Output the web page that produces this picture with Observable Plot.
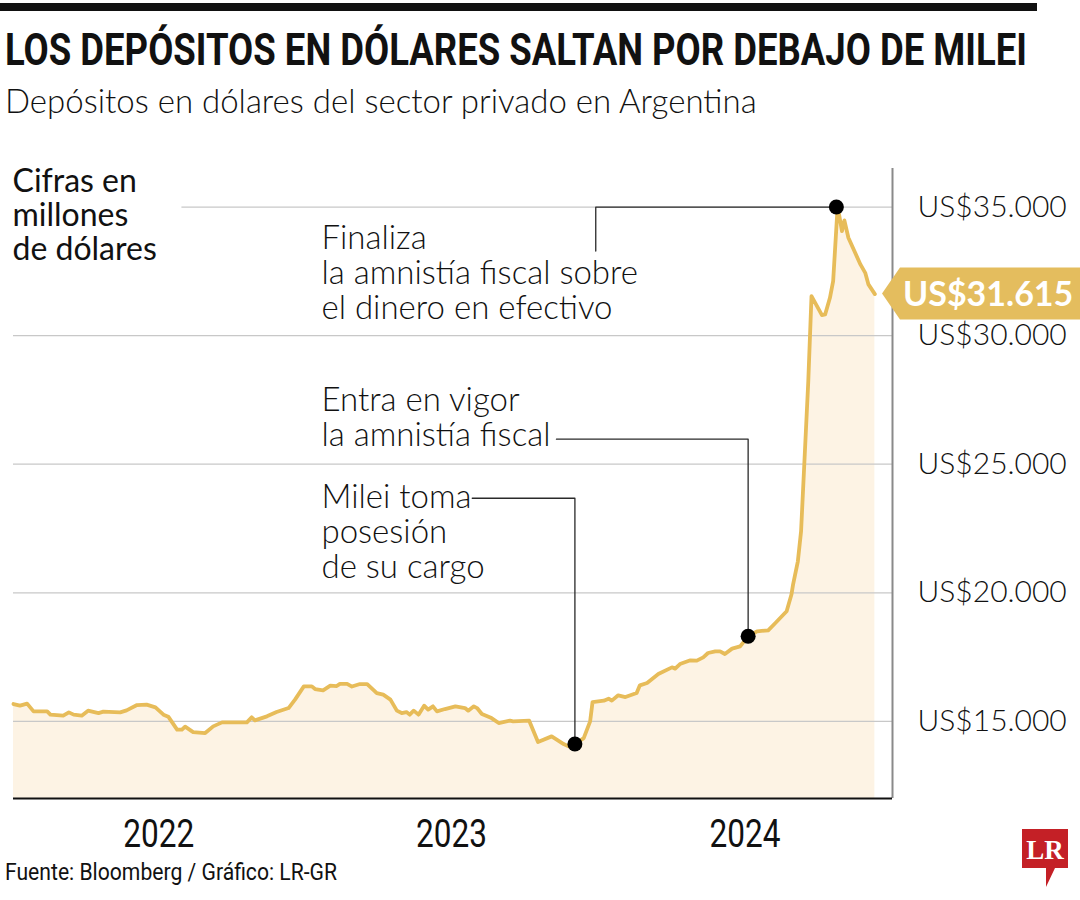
<!DOCTYPE html>
<html><head><meta charset="utf-8">
<script src="https://cdn.jsdelivr.net/npm/d3@7"></script>
<script src="https://cdn.jsdelivr.net/npm/@observablehq/plot@0.6"></script>
<style>
body{margin:0;background:#fff;}
#page{position:relative;width:1080px;height:900px;overflow:hidden;font-family:Lato,"Open Sans",sans-serif;color:#111;}
#bar{position:absolute;left:0;top:3px;width:1037px;height:8px;background:#111;}
#title{position:absolute;left:5px;top:27px;font-family:Roboto,"Open Sans",sans-serif;font-weight:700;font-size:45px;line-height:45px;white-space:nowrap;transform-origin:0 0;}
#subtitle{position:absolute;left:5px;top:84px;font-family:Lato,sans-serif;font-weight:300;font-size:33px;line-height:33px;white-space:nowrap;}
#chart{position:absolute;left:0;top:140px;}
#caption{position:absolute;left:5px;top:861px;font-family:Roboto,sans-serif;font-weight:400;font-size:23px;line-height:23px;white-space:nowrap;transform-origin:0 0;}
#logo{position:absolute;left:1022px;top:829px;}
</style></head>
<body>
<div id="page">
  <div id="bar"></div>
  <div id="title">LOS DEPÓSITOS EN DÓLARES SALTAN POR DEBAJO DE MILEI</div>
  <div id="subtitle">Depósitos en dólares del sector privado en Argentina</div>
  <div id="chart"></div>
  <div id="caption">Fuente: Bloomberg / Gráfico: LR-GR</div>
  <svg id="logo" width="48" height="60" viewBox="0 0 48 60">
    <path d="M0,0 H46 V39 H33 L24,58 V39 H0 Z" fill="#c42026"/>
    <text x="23" y="30" text-anchor="middle" font-family="Liberation Serif, DejaVu Serif, serif" font-weight="700" font-size="27" fill="#fff">LR</text>
  </svg>
</div>
<script>
// ---- data ----
const dates = [
"2022-01-01","2022-01-09","2022-01-18","2022-01-26","2022-02-12","2022-02-16","2022-03-04","2022-03-11","2022-03-17","2022-03-27","2022-04-04","2022-04-17","2022-04-23","2022-05-14","2022-05-22","2022-06-04","2022-06-16","2022-06-27","2022-07-07","2022-07-13","2022-07-24","2022-07-30","2022-08-03","2022-08-13","2022-08-28","2022-09-07","2022-09-18","2022-10-19","2022-10-25","2022-10-29","2022-11-13","2022-11-25","2022-12-10","2022-12-18","2022-12-29",
"2023-01-08","2023-01-12","2023-01-22","2023-01-31","2023-02-08","2023-02-12","2023-02-21","2023-02-27","2023-03-09","2023-03-18","2023-03-30","2023-04-07","2023-04-16","2023-04-24","2023-04-30","2023-05-06","2023-05-10","2023-05-15","2023-05-21","2023-05-28","2023-06-02","2023-06-08","2023-06-13","2023-06-23","2023-07-06","2023-07-18","2023-07-22","2023-07-29","2023-08-02","2023-08-08","2023-08-20","2023-08-29","2023-09-12","2023-09-16","2023-10-06","2023-10-17","2023-11-03","2023-11-18","2023-11-24","2023-12-02","2023-12-13","2023-12-21","2023-12-24",
"2024-01-07","2024-01-13","2024-01-17","2024-01-25","2024-02-03","2024-02-17","2024-02-21","2024-03-01","2024-03-15","2024-04-01","2024-04-05","2024-04-11","2024-04-24","2024-05-02","2024-05-10","2024-05-16","2024-05-25","2024-05-31","2024-06-06","2024-06-15","2024-06-25","2024-07-05","2024-07-16","2024-07-30","2024-08-08","2024-08-22","2024-08-28","2024-08-30","2024-09-05","2024-09-09","2024-09-13","2024-09-18","2024-09-22","2024-10-05","2024-10-09","2024-10-15","2024-10-19","2024-10-24","2024-10-26","2024-10-30","2024-11-02","2024-11-07","2024-11-22","2024-11-28","2024-12-02","2024-12-10"
];
const values = [
15673,15611,15689,15389,15389,15261,15222,15350,15261,15222,15416,15323,15377,15350,15428,15634,15650,15545,15261,15183,14677,14677,14794,14584,14545,14805,14961,14961,15156,15039,15195,15362,15517,15844,16362,
16362,16257,16206,16389,16373,16459,16459,16354,16451,16451,16101,16039,15844,15416,15323,15362,15261,15416,15261,15611,15455,15584,15389,15479,15584,15517,15416,15584,15517,15284,15128,14934,15027,15000,15027,14195,14416,14117,14027,14117,14350,15000,15751,
15805,15883,15805,16012,15946,16101,16401,16490,16840,17101,17051,17230,17374,17362,17490,17658,17724,17724,17619,17829,17918,18307,18502,18541,18825,19280,19930,20319,21226,22393,24988,28230,31537,30798,30825,31471,32121,34716,34778,34066,34482,33805,32770,32443,31992,31615
];
const yTicks = [15000, 20000, 25000, 30000, 35000];
const gridStarts = ["2022-01-01","2022-01-01","2022-01-01","2022-01-01","2022-07-30"];
const yearTicks = ["2022-07-01","2023-07-01","2024-07-01"];
const yearLabels = ["2022","2023","2024"];
const xDomain = ["2022-01-01","2025-01-01"];
const yDomain = [12000, 36500];

const eventLabels = ["Milei toma\nposesión\nde su cargo", "Entra en vigor\nla amnistía fiscal", "Finaliza\nla amnistía fiscal sobre\nel dinero en efectivo"];
const eventDates = ["2023-12-02", "2024-07-05", "2024-10-23"];
const eventValues = [14117, 18307, 35000];
const labelDates = ["2023-01-20", "2023-01-20", "2023-01-20"];
const labelValues = [24261, 28035, 34339];
const elbowStartDates = ["2023-07-27", "2023-11-09", "2023-12-28"];
const elbowValues = [23677, 25973, 33288];
const unitLabel = "Cifras en\nmillones\nde dólares";
const lastLabel = "US$31.615";

// ---- build ----
const D = s => new Date(s + "T00:00:00Z");
const data = dates.map((d, i) => ({date: D(d), value: values[i]}));
const grid = yTicks.map((v, i) => ({v, x1: D(gridStarts[i]), x2: D(xDomain[1])}));
const events = eventDates.map((d, i) => ({date: D(d), value: eventValues[i]}));
const labels = eventLabels.map((t, i) => ({text: t, date: D(labelDates[i]), value: labelValues[i]}));
const connectors = [];
eventDates.forEach((d, i) => {
  if (i < 2) {
    connectors.push({id: i, date: D(elbowStartDates[i]), value: elbowValues[i]});
    connectors.push({id: i, date: D(d), value: elbowValues[i]});
    connectors.push({id: i, date: D(d), value: eventValues[i]});
  } else {
    connectors.push({id: i, date: D(d), value: eventValues[i]});
    connectors.push({id: i, date: D(elbowStartDates[i]), value: eventValues[i]});
    connectors.push({id: i, date: D(elbowStartDates[i]), value: elbowValues[i]});
  }
});
const fmt = v => "US$" + d3.format(",")(v).replace(/,/g, ".");

const W = 1080, H = 720, mt = 28, mb = 62, ml = 13, mr = 188;
const chart = Plot.plot({
  width: W, height: H,
  marginTop: mt, marginBottom: mb, marginLeft: ml, marginRight: mr,
  style: {fontFamily: "Lato, 'Open Sans', sans-serif", color: "#111", background: "transparent", overflow: "visible"},
  x: {type: "utc", domain: xDomain.map(D)},
  y: {domain: yDomain},
  marks: [
    Plot.areaY(data, {x: "date", y1: yDomain[0], y2: "value", fill: "#fdf3e4", curve: "linear"}),
    Plot.ruleY(grid, {y: "v", x1: "x1", x2: "x2", stroke: "#c8c8c8", strokeWidth: 1.3}),
    Plot.ruleX([D(xDomain[1])], {stroke: "#8a8a8a", strokeWidth: 2}),
    Plot.ruleY([yDomain[0]], {x1: D(xDomain[0]), x2: D(xDomain[1]), stroke: "#111", strokeWidth: 2}),
    Plot.lineY(data, {x: "date", y: "value", stroke: "#e7bc59", strokeWidth: 3.8, strokeLinejoin: "round"}),
    Plot.line(connectors, {x: "date", y: "value", z: "id", stroke: "#2a2a2a", strokeWidth: 1.3}),
    Plot.dot(events, {x: "date", y: "value", r: 7.5, fill: "#000"}),
    Plot.text(labels, {x: "date", y: "value", text: "text", lineAnchor: "top", textAnchor: "start", fontSize: 33, fontWeight: 300, lineHeight: 1.06, fill: "#111"}),
    Plot.text([unitLabel], {frameAnchor: "top-left", dx: -1, lineAnchor: "top", textAnchor: "start", fontSize: 32, fontWeight: 400, lineHeight: 1.05, fill: "#111"}),
    Plot.axisY(yTicks, {anchor: "right", tickSize: 0, tickPadding: 25, textAnchor: "start", fontSize: 30, fontWeight: 300, tickFormat: fmt, label: null, fill: "#111"}),
    Plot.axisX(yearTicks.map(D), {anchor: "bottom", tickSize: 0, tickPadding: 21, fontSize: 39, fontFamily: "Roboto, sans-serif", tickFormat: d => yearLabels[yearTicks.indexOf(d.toISOString().slice(0,10))], label: null, fill: "#111"})
  ]
});
document.getElementById("chart").appendChild(chart);

// condensed look for the year labels
d3.select(chart).selectAll("g[aria-label='x-axis tick label'] text")
  .attr("textLength", 71).attr("lengthAdjust", "spacingAndGlyphs");

// value tag for the last observation, positioned through the plot's scales
let ys;
try { ys = chart.scale("y"); } catch (e) { ys = null; }
const yApply = ys && ys.apply ? v => ys.apply(v) : d3.scaleLinear(yDomain, [H - mb, mt]);
const yc = yApply(values[values.length - 1]);
const xr = W - mr;
const g = d3.select(chart).append("g");
g.append("path")
  .attr("d", `M${xr - 10},${yc} L${xr + 8},${yc - 26} L${W},${yc - 26} L${W},${yc + 26} L${xr + 8},${yc + 26} Z`)
  .attr("fill", "#e4bd5e");
g.append("text")
  .attr("x", xr + 11).attr("y", yc).attr("dy", "0.36em")
  .attr("text-anchor", "start")
  .attr("font-family", "Lato, 'Open Sans', sans-serif").attr("font-weight", 700).attr("font-size", 34)
  .attr("fill", "#fff").text(lastLabel);

// condensed title and caption: fit to the reference widths
function fit(id, w) {
  const el = document.getElementById(id);
  const cur = el.getBoundingClientRect().width;
  el.style.transform = `scaleX(${w / cur})`;
}
fit("title", 1022);
fit("caption", 332);
</script>
</body></html>
